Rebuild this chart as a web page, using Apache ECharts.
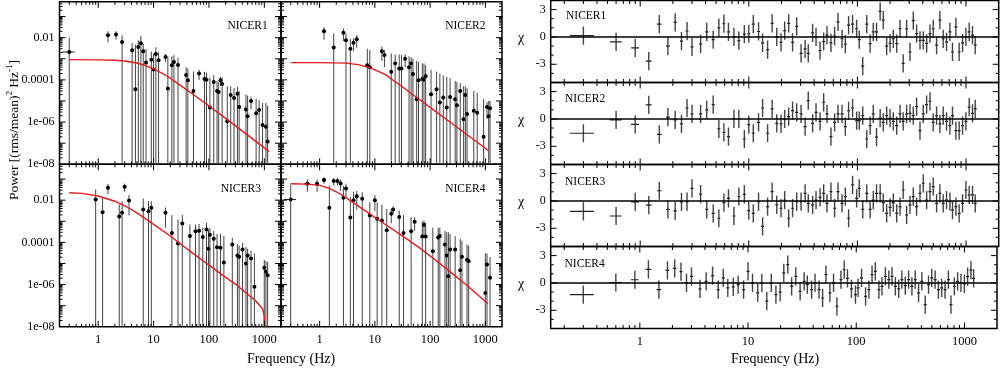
<!DOCTYPE html>
<html><head><meta charset="utf-8">
<script src="https://cdn.jsdelivr.net/npm/echarts@6/dist/echarts.min.js"></script>
<style>html,body{margin:0;padding:0;background:#fff}#c{width:1000px;height:368px}</style>
</head><body><div id="c"></div>
<script>
// ================= DATA =================
const panelNames = ['NICER1', 'NICER2', 'NICER3', 'NICER4'];
const xTickValues = [1, 10, 100, 1000];
const xTickLabels = ['1', '10', '100', '1000'];
const powTickValues = [1e-8, 1e-6, 1e-4, 1e-2];
const powTickLabels = ['1e-08', '1e-06', '0.0001', '0.01'];
const chiTickValues = [-3, 0, 3];
const chiTickLabels = ['-3', '0', '3'];
const xTitle = 'Frequency (Hz)';
const binHalfWidth = 0.075; // Hz

// ---- power spectra (left) : frequency, power, 1-sigma error ----
const pds1Freq = [0.3, 1.5, 2.1, 2.7, 4.1, 4.7, 5.3, 5.9, 6.5, 7.3, 9.1, 10.0, 11.0, 12.3, 16.4, 18.1, 21.4, 23.3, 27.6, 38.7, 41.6, 52.5, 66.3, 83.0, 90.3, 104, 122, 140, 150, 162, 173, 214, 247, 284, 327, 351, 466, 499, 575, 711, 807, 929, 1070, 1148];
const pds1Pow = [2.1e-3, 1.3e-2, 1.4e-2, 6.2e-3, 2.5e-3, 3.6e-5, 3.6e-3, 5.5e-3, 2.3e-3, 6.6e-4, 9.1e-4, 3.1e-4, 1.7e-3, 8.5e-4, 1.2e-3, 3.9e-5, 4.9e-4, 7e-4, 5e-4, 1.7e-4, 9.6e-5, 3e-5, 2e-4, 1.1e-4, 1e-4, 4.9e-6, 8e-5, 3e-5, 2.7e-5, 9.6e-5, 6.3e-5, 1.1e-6, 1.9e-5, 1.4e-5, 2.2e-5, 5.2e-6, 4e-6, 1.9e-6, 1e-5, 2.6e-6, 3.7e-6, 7.2e-7, 6e-7, 1.2e-7];
const pds1Err = [7.9e-3, 7e-3, 6e-3, 6.8e-3, 3.0e-3, 4.5e-3, 3.9e-3, 6.5e-3, 2.7e-3, 2.3e-3, 1.3e-3, 1.5e-3, 1.8e-3, 1.15e-3, 5e-4, 1.26e-3, 8.1e-4, 8e-4, 6e-4, 2.3e-4, 2.5e-4, 2.2e-4, 1e-4, 1.3e-4, 1.2e-4, 1.25e-4, 9e-5, 6e-5, 5.3e-5, 4.4e-5, 6.7e-5, 4.9e-5, 3.1e-5, 2.6e-5, 2.4e-5, 2.5e-5, 1.6e-5, 1.6e-5, 6e-6, 1.04e-5, 7.3e-6, 7.3e-6, 7.4e-6, 5.9e-6];

const pds2Freq = [1.2, 1.8, 2.7, 3.0, 3.6, 4.1, 4.7, 7.3, 8.1, 13.4, 14.9, 19.8, 23.3, 27.6, 30.3, 35.3, 41.6, 45.3, 48.9, 57.1, 61.7, 72.2, 77.4, 83.0, 104, 131, 150, 173, 200, 230, 284, 305, 351, 404, 434, 466, 617, 711, 929, 1070, 1148, 1216];
const pds2Pow = [0.020, 0.0034, 0.017, 0.0075, 0.003, 0.0058, 0.0083, 4.9e-4, 4e-4, 2.3e-3, 1.5e-3, 2.4e-4, 5.9e-4, 3.5e-4, 3.5e-4, 1e-3, 4e-4, 5.9e-4, 1.9e-4, 1.2e-5, 9.5e-5, 1.1e-4, 1e-4, 1.5e-4, 2.1e-5, 3.6e-5, 8.5e-6, 1.45e-5, 4.9e-6, 1.55e-5, 1.2e-5, 6.3e-6, 3e-5, 1.35e-6, 1.9e-5, 2.4e-6, 3.4e-6, 2.75e-6, 2e-7, 5.2e-6, 1.9e-6, 4.5e-6];
const pds2Err = [0.012, 0.0126, 0.010, 0.0085, 0.006, 0.0035, 0.005, 2.5e-3, 2.2e-3, 1.5e-3, 1.1e-3, 1.56e-3, 1.0e-3, 1.25e-3, 1.15e-3, 6e-4, 9e-4, 6.1e-4, 8.1e-4, 7.9e-4, 6.05e-4, 4.9e-4, 5e-4, 3.5e-4, 2.8e-4, 2.1e-4, 1.9e-4, 1.45e-4, 1.35e-4, 1.05e-4, 7.8e-5, 7.4e-5, 4e-5, 4.9e-5, 3.1e-5, 3.8e-5, 2.7e-5, 2.2e-5, 1.2e-5, 3.8e-6, 8.1e-6, 5.5e-6];

const pds3Freq = [0.9, 1.2, 1.5, 2.4, 2.7, 3.0, 3.6, 6.5, 8.1, 9.1, 16.4, 21.4, 27.6, 33.0, 45.3, 57.1, 66.3, 77.4, 90.3, 98.4, 104, 122, 140, 162, 186, 264, 327, 351, 404, 466, 499, 575, 662, 998, 1070, 1148];
const pds3Pow = [0.0107, 0.0027, 0.039, 0.0017, 0.0025, 0.043, 0.0097, 0.0036, 0.003, 0.0044, 0.0025, 2.8e-4, 8.9e-5, 7.9e-4, 2e-4, 3.4e-4, 3.6e-4, 1.8e-4, 4.1e-4, 5e-5, 2.3e-4, 1.5e-4, 5.9e-5, 5.5e-5, 1.1e-5, 7.9e-5, 2.4e-5, 2.1e-5, 4.6e-5, 1e-5, 2.4e-5, 1.7e-5, 8e-7, 6.3e-6, 4.1e-6, 2.8e-6];
const pds3Err = [0.0213, 0.0103, 0.02, 0.0046, 0.0065, 0.018, 0.0078, 0.0084, 0.006, 0.0046, 0.002, 1.7e-3, 1.1e-3, 1.2e-3, 5e-4, 3.6e-4, 3.8e-4, 3.2e-4, 4.3e-4, 3.5e-4, 2.5e-4, 2e-4, 1.9e-4, 1.95e-4, 1.9e-4, 8.5e-5, 5.6e-5, 4.9e-5, 4.8e-5, 5e-5, 2.6e-5, 2.3e-5, 2.9e-5, 8.7e-6, 8.9e-6, 9.2e-6];

const pds4Freq = [0.3, 0.6, 0.9, 1.2, 1.5, 1.8, 2.1, 2.4, 2.7, 3.0, 3.6, 4.1, 4.7, 5.9, 8.1, 10.0, 11.0, 13.4, 16.4, 19.8, 21.4, 27.6, 33.0, 45.3, 52.5, 72.2, 77.4, 83.0, 112, 140, 150, 186, 200, 214, 230, 284, 351, 377, 466, 499, 998, 1070, 1216];
const pds4Pow = [0.0107, 0.06, 0.06, 0.09, 0.0044, 0.08, 0.08, 0.062, 0.013, 0.036, 0.0015, 0.01, 0.0155, 0.0117, 0.0019, 0.01, 0.0013, 0.0011, 3.8e-4, 2.3e-3, 3.6e-3, 1.6e-3, 2.8e-4, 3.4e-4, 9.5e-4, 1.9e-4, 6.6e-4, 1.9e-4, 3.8e-5, 1.7e-4, 2e-4, 8e-5, 2.4e-5, 2.5e-6, 4.6e-5, 4.6e-5, 4.8e-6, 2.1e-5, 1.5e-5, 1.3e-5, 4e-7, 8.9e-6, 2.1e-6];
const pds4Err = [0.044, 0.035, 0.035, 0.03, 0.045, 0.03, 0.03, 0.035, 0.035, 0.024, 0.012, 0.015, 0.012, 0.012, 0.006, 0.007, 0.0065, 0.005, 0.0035, 0.0015, 0.0014, 0.0016, 0.0017, 0.0012, 6e-4, 8e-4, 4.4e-4, 7e-4, 4.6e-4, 3.3e-4, 3e-4, 2.7e-4, 2.8e-4, 3e-4, 2e-4, 1.5e-4, 1.45e-4, 1e-4, 6.5e-5, 5.7e-5, 3e-5, 2.1e-5, 1.8e-5];

// ---- best-fit model curves (red) ----
const model1Freq = [0.3, 1, 2, 3, 5, 7, 10, 15, 20, 30, 50, 100, 200, 500, 1000, 1216];
const model1Pow = [9.1e-4, 8.9e-4, 8.5e-4, 7.8e-4, 6.3e-4, 4.9e-4, 3.3e-4, 1.9e-4, 1.2e-4, 5.6e-5, 2.2e-5, 5.8e-6, 1.5e-6, 2.4e-7, 6.0e-8, 4.1e-8];
const model2Freq = [0.3, 1, 3, 5, 8, 10, 15, 30, 60, 118, 235, 466, 1150];
const model2Pow = [6.6e-4, 6.6e-4, 6.2e-4, 5.25e-4, 3.8e-4, 3.0e-4, 1.86e-4, 5.1e-5, 1.35e-5, 3.6e-6, 9.5e-7, 2.5e-7, 4.4e-8];
const model3Freq = [0.3, 0.5, 1, 2, 3.2, 5, 10, 20, 31.5, 50, 100, 200, 309, 500, 700, 930, 990, 1010];
const model3Pow = [0.0224, 0.0209, 0.0158, 0.0089, 0.005, 0.0025, 7.1e-4, 2.0e-4, 7.9e-5, 3.2e-5, 8.3e-6, 2.2e-6, 1.0e-6, 3.5e-7, 1.66e-7, 7.1e-8, 3.5e-8, 1.0e-8];
const model4Freq = [0.3, 0.6, 1, 1.5, 2, 2.7, 4.5, 7.6, 15, 30, 60, 118, 235, 466, 1100];
const model4Pow = [0.06, 0.0575, 0.05, 0.036, 0.025, 0.0158, 0.0063, 0.0025, 7.4e-4, 2.2e-4, 6.3e-5, 1.62e-5, 3.9e-6, 9.1e-7, 1.26e-7];

// ---- residuals (right) ----
const chiFreq = [0.3, 0.6, 0.9, 1.2, 1.5, 1.8, 2.1, 2.4, 2.7, 3.0, 3.6, 4.1, 4.7, 5.3, 5.9, 6.5, 7.3, 8.1, 9.1, 10.0, 11.0, 12.3, 13.4, 14.9, 16.4, 18.1, 19.8, 21.4, 23.3, 25.3, 27.6, 30.3, 33.0, 35.3, 38.7, 41.6, 45.3, 48.9, 52.5, 57.1, 61.7, 66.3, 72.2, 77.4, 83.0, 90.3, 98.4, 104, 112, 122, 131, 140, 150, 162, 173, 186, 200, 214, 230, 247, 264, 284, 305, 327, 351, 377, 404, 434, 466, 499, 536, 575, 617, 662, 711, 751, 807, 865, 929, 998, 1070, 1148, 1216];
const chi1 = [0.15, -0.55, -1.2, -2.65, 1.4, -1.0, 1.6, -0.45, 0.65, -1.1, -0.75, 0.55, -0.3, 1.0, 1.45, 0.55, 0.0, -0.4, 0.3, 0.35, 1.4, 0.6, -0.65, -1.4, 1.5, 0.0, -0.6, 0.7, 1.5, -0.6, 1.15, -1.8, -1.3, -1.8, 0.45, 0.0, -1.5, -0.5, 0.2, -0.66, 0.1, 1.65, -0.2, -0.8, 1.3, 1.4, 0.9, -0.3, -3.2, 1.4, -0.73, 0.55, 0.55, 2.8, 1.85, -1.0, -0.7, -0.2, -0.73, 0.9, -2.9, 0.9, -1.65, 1.8, 0.37, -0.37, -0.37, -0.7, 0.37, 0.9, -0.9, 1.85, -0.2, -0.55, 0.55, -1.65, 1.1, -1.65, -0.66, 0.0, 0.55, 0.2, -0.9];
const chi2 = [-1.57, -0.1, -0.6, 1.55, -1.7, 0.2, -0.1, -0.55, 1.2, 0.55, 0.55, 1.0, 1.57, -1.1, -1.47, -1.94, 0.0, 0.0, -2.2, -0.62, -1.57, -0.37, 1.2, -1.57, 1.1, -0.48, -0.55, 0.0, 0.26, 0.92, 0.73, 0.55, -0.84, 2.0, -0.48, 0.73, -0.26, 1.83, 0.55, -1.94, -0.37, 0.55, 0.55, -0.84, 0.9, 1.2, -0.18, -0.18, 0.37, -2.2, -0.73, 0.55, -2.0, 0.1, -0.37, 0.37, 0.1, -0.26, -0.73, 0.55, -0.26, 0.55, 0.62, 0.37, 1.35, -1.28, 0.55, 1.57, 1.94, -0.37, 0.37, -0.55, 0.37, -0.26, -0.73, 0.37, -1.28, -1.28, -0.73, -0.26, 1.3, 0.62, 1.1];
const chi3 = [-1.15, -1.65, -0.1, -0.45, 1.12, -0.92, -1.08, -0.1, -0.07, 1.39, 0.75, -0.92, -1.36, -1.9, -0.18, 0.29, -1.65, 0.48, 0.73, -1.06, -1.36, -0.07, -2.8, -0.62, 1.03, -0.44, -0.8, 0.1, -1.9, -0.8, -0.07, -0.07, 0.84, -0.26, -0.44, 0.1, 0.4, 0.84, -0.26, 1.03, -0.8, 1.03, -0.26, 0.48, -1.9, 1.76, 0.29, 1.39, -0.92, 0.84, -0.92, 0.1, 0.84, 0.84, -0.18, -1.36, -0.7, -0.18, -1.36, -0.62, 1.2, -1.54, -0.44, 0.48, -0.62, 0.84, 1.94, 0.1, 1.03, 1.57, -0.26, 0.84, -0.26, 0.1, -0.07, -1.0, -0.62, -1.36, -0.26, 1.2, 0.66, 0.66, -0.26];
const chi4 = [-1.28, 0.05, 0.35, 1.5, -0.73, 1.39, 1.6, 1.25, 0.0, 0.73, -0.66, 0.18, 0.8, -0.73, 0.55, -0.55, -0.44, -0.18, -0.73, 1.28, 0.0, -1.1, 0.0, -2.0, 0.0, -1.28, -1.0, 1.1, 2.0, -0.37, 0.73, -0.92, 0.18, -0.18, -0.73, 0.0, -0.73, -1.65, 0.92, -1.1, 0.0, -2.56, 0.37, 1.45, 0.5, -0.66, -1.28, -0.55, 0.55, -1.47, -0.73, 0.92, 1.28, -0.73, -0.37, 0.73, 0.37, 0.73, -0.37, -0.66, 0.37, -0.29, 0.37, -0.37, 0.37, -1.1, 0.18, -2.38, -0.18, 0.55, 0.37, -0.73, -0.55, -0.73, 0.37, -2.38, -0.37, 0.18, 0.0, -0.1, 0.7, 1.4, 0.5];

// ================= LAYOUT / STYLE =================
const FONT = 'Liberation Serif';
const PMIN = 1e-8, PMAX = 0.5;
const LX = [0.2, 2000], RX = [0.15, 2000], CHI = [-5, 4];
const leftBoxes = [
  {left: 59.5, top: 1.8, width: 221.5, height: 162.5},
  {left: 281, top: 1.8, width: 221, height: 162.5},
  {left: 59.5, top: 164.3, width: 221.5, height: 162.5},
  {left: 281, top: 164.3, width: 221, height: 162.5}
];
const rightTops = [0.5, 82.5, 164.5, 246.5];
const rightBoxes = rightTops.map(t => ({left: 550.7, top: t, width: 448, height: 82}));

function labelFrom(values, labels, log) {
  return function (v) {
    for (let i = 0; i < values.length; i++) {
      if (log ? Math.abs(Math.log10(v) - Math.log10(values[i])) < 1e-6 : Math.abs(v - values[i]) < 1e-9) return labels[i];
    }
    return '';
  };
}
function logTicks(lo, hi) {
  const out = [];
  for (let d = -9; d <= 4; d++) for (let k = 1; k <= 9; k++) {
    const v = k * Math.pow(10, d);
    if (v <= lo * 1.001 || v >= hi * 0.999) continue;
    out.push({v: v, major: k === 1});
  }
  return out;
}
function linTicks(lo, hi, majors) {
  const out = [];
  for (let v = Math.ceil(lo); v <= Math.floor(hi); v++) {
    if (v === lo || v === hi) continue;
    out.push({v: v, major: majors.indexOf(v) >= 0});
  }
  return out;
}

function tickSeries(gi, xt, yt, xRef, yRef, o) {
  const items = [];
  xt.forEach(t => items.push({d: 'x', v: t.v, major: t.major}));
  yt.forEach(t => items.push({d: 'y', v: t.v, major: t.major}));
  if (o.zero) items.push({d: 'z', v: 0});
  return {
    type: 'custom', xAxisIndex: gi, yAxisIndex: gi, silent: true, clip: false, z: 6,
    data: items.map(t => t.d === 'x' ? [t.v, yRef] : [xRef, t.v]),
    renderItem: function (params, api) {
      const t = items[params.dataIndex];
      const cs = params.coordSys;
      const pt = api.coord([api.value(0), api.value(1)]);
      const st = {stroke: '#000', lineWidth: 1};
      if (t.d === 'x') {
        const L = t.major ? o.xMaj : o.xMin;
        const x = pt[0], yb = cs.y + cs.height, yt2 = cs.y;
        return {type: 'group', children: [
          {type: 'line', shape: {x1: x, y1: yb, x2: x, y2: yb - L}, style: st},
          {type: 'line', shape: {x1: x, y1: yt2, x2: x, y2: yt2 + L}, style: st}]};
      }
      if (t.d === 'y') {
        const L = t.major ? o.yMaj : o.yMin;
        const y = pt[1], xl = cs.x, xr = cs.x + cs.width;
        return {type: 'group', children: [
          {type: 'line', shape: {x1: xl, y1: y, x2: xl + L, y2: y}, style: st},
          {type: 'line', shape: {x1: xr, y1: y, x2: xr - L, y2: y}, style: st}]};
      }
      return {type: 'line', shape: {x1: cs.x, y1: pt[1], x2: cs.x + cs.width, y2: pt[1]}, style: {stroke: '#000', lineWidth: 1.4}};
    }
  };
}

function pdsSeries(gi, freq, pow, err) {
  const n = Math.min(freq.length, pow.length, err.length);
  const data = [];
  for (let i = 0; i < n; i++) data.push([freq[i], pow[i], err[i]]);
  return {
    type: 'custom', xAxisIndex: gi, yAxisIndex: gi, silent: true, clip: true, z: 3,
    data: data,
    renderItem: function (params, api) {
      const f = api.value(0), p = api.value(1), e = api.value(2);
      const cs = params.coordSys;
      const c = api.coord([f, p]);
      const top = Math.max(cs.y, api.coord([f, p + e])[1]);
      const lo = p - e;
      const bot = lo > PMIN ? api.coord([f, lo])[1] : cs.y + cs.height;
      const xl = api.coord([f - binHalfWidth, p])[0], xr = api.coord([f + binHalfWidth, p])[0];
      return {type: 'group', children: [
        {type: 'line', shape: {x1: c[0], y1: top, x2: c[0], y2: bot}, style: {stroke: '#444', lineWidth: 1}},
        {type: 'line', shape: {x1: xl, y1: c[1], x2: xr, y2: c[1]}, style: {stroke: '#222', lineWidth: 1}},
        {type: 'circle', shape: {cx: c[0], cy: c[1], r: 2}, style: {fill: '#000'}}]};
    }
  };
}

function chiSeries(gi, freq, chi) {
  const n = Math.min(freq.length, chi.length);
  const data = [];
  for (let i = 0; i < n; i++) data.push([freq[i], chi[i]]);
  return {
    type: 'custom', xAxisIndex: gi, yAxisIndex: gi, silent: true, clip: true, z: 3,
    data: data,
    renderItem: function (params, api) {
      const f = api.value(0), v = api.value(1);
      const c = api.coord([f, v]);
      const t = api.coord([f, v + 1])[1], b = api.coord([f, v - 1])[1];
      let xl = api.coord([f - binHalfWidth, v])[0], xr = api.coord([f + binHalfWidth, v])[0];
      xl = Math.min(xl, c[0] - 1.5); xr = Math.max(xr, c[0] + 1.5);
      return {type: 'group', children: [
        {type: 'line', shape: {x1: c[0], y1: t, x2: c[0], y2: b}, style: {stroke: '#444', lineWidth: 1.4}},
        {type: 'line', shape: {x1: xl, y1: c[1], x2: xr, y2: c[1]}, style: {stroke: '#222', lineWidth: 1.2}}]};
    }
  };
}

function modelSeries(gi, freq, pow) {
  return {
    type: 'line', xAxisIndex: gi, yAxisIndex: gi, silent: true, showSymbol: false, symbol: 'none',
    smooth: false, clip: true, z: 4,
    lineStyle: {color: '#e41a1c', width: 1.4},
    data: freq.map((f, i) => [f, pow[i]])
  };
}

const labelStyle = {fontFamily: FONT, fontSize: 12, color: '#000'};
const grids = [], xAxes = [], yAxes = [], series = [];
const pdsF = [pds1Freq, pds2Freq, pds3Freq, pds4Freq];
const pdsP = [pds1Pow, pds2Pow, pds3Pow, pds4Pow];
const pdsE = [pds1Err, pds2Err, pds3Err, pds4Err];
const modF = [model1Freq, model2Freq, model3Freq, model4Freq];
const modP = [model1Pow, model2Pow, model3Pow, model4Pow];
const chis = [chi1, chi2, chi3, chi4];

const xLab = labelFrom(xTickValues, xTickLabels, true);
const pLab = labelFrom(powTickValues, powTickLabels, true);
const cLab = labelFrom(chiTickValues, chiTickLabels, false);

leftBoxes.forEach((b, i) => {
  grids.push(Object.assign({show: true, borderColor: '#000', borderWidth: 1.5, backgroundColor: 'transparent'}, b));
  xAxes.push({type: 'log', logBase: 10, gridIndex: i, min: LX[0], max: LX[1],
    axisLine: {show: false}, axisTick: {show: false}, splitLine: {show: false},
    axisLabel: Object.assign({show: i >= 2, margin: 6, formatter: xLab}, labelStyle, {fontSize: 12.5})});
  yAxes.push({type: 'log', logBase: 10, gridIndex: i, min: PMIN, max: PMAX,
    axisLine: {show: false}, axisTick: {show: false}, splitLine: {show: false},
    axisLabel: Object.assign({show: i % 2 === 0, margin: 5, formatter: pLab}, labelStyle)});
});
rightBoxes.forEach((b, j) => {
  const i = 4 + j;
  grids.push(Object.assign({show: true, borderColor: '#000', borderWidth: 1.5, backgroundColor: 'transparent'}, b));
  xAxes.push({type: 'log', logBase: 10, gridIndex: i, min: RX[0], max: RX[1],
    axisLine: {show: false}, axisTick: {show: false}, splitLine: {show: false},
    axisLabel: Object.assign({show: j === 3, margin: 7, formatter: xLab}, labelStyle, {fontSize: 12.5})});
  yAxes.push({type: 'value', gridIndex: i, min: CHI[0], max: CHI[1], interval: 1,
    axisLine: {show: false}, axisTick: {show: false}, splitLine: {show: false},
    axisLabel: Object.assign({show: true, margin: 5, formatter: cLab}, labelStyle)});
});

const lxT = logTicks(LX[0], LX[1]), lyT = logTicks(PMIN, PMAX);
const rxT = logTicks(RX[0], RX[1]), ryT = linTicks(CHI[0], CHI[1], chiTickValues);
for (let i = 0; i < 4; i++) {
  series.push(tickSeries(i, lxT, lyT, 10, 1e-4, {xMaj: 6, xMin: 3, yMaj: 6, yMin: 3}));
  series.push(pdsSeries(i, pdsF[i], pdsP[i], pdsE[i]));
  series.push(modelSeries(i, modF[i], modP[i]));
}
for (let j = 0; j < 4; j++) {
  series.push(tickSeries(4 + j, rxT, ryT, 10, 0, {xMaj: 6, xMin: 3.5, yMaj: 6, yMin: 3, zero: true}));
  series.push(chiSeries(4 + j, chiFreq, chis[j]));
}

const txt = (x, y, s, size, align, extra) => Object.assign({type: 'text', x: x, y: y, silent: true, z: 10,
  style: {text: s, fontFamily: FONT, fontSize: size, fill: '#000', align: align || 'center', verticalAlign: 'middle'}}, extra || {});

const graphic = [
  txt(247.5, 26, panelNames[0], 11.5),
  txt(465.3, 26, panelNames[1], 11.5),
  txt(240.8, 189.3, panelNames[2], 11.5),
  txt(465.3, 189.3, panelNames[3], 11.5),
  txt(566, 15.5, panelNames[0], 11.5, 'left'),
  txt(565, 99, panelNames[1], 11.5, 'left'),
  txt(565, 182, panelNames[2], 11.5, 'left'),
  txt(564.5, 263.5, panelNames[3], 11.5, 'left'),
  txt(521, 38, 'χ', 14), txt(521, 120, 'χ', 14), txt(521, 202, 'χ', 14), txt(521, 284, 'χ', 14),
  txt(291, 359, xTitle, 14), txt(775, 359, xTitle, 14),
  {type: 'text', x: 14, y: 130, rotation: Math.PI / 2, silent: true, z: 10,
    style: {text: 'Power [(rms/mean){sup|2} Hz{sup|-1}]', fontFamily: FONT, fontSize: 13.5, fill: '#000',
      align: 'center', verticalAlign: 'middle', lineHeight: 18,
      rich: {sup: {fontFamily: FONT, fontSize: 9, lineHeight: 18, verticalAlign: 'top', fill: '#000'}}}}
];

const chart = echarts.init(document.getElementById('c'), null, {renderer: 'canvas', width: 1000, height: 368});
chart.setOption({
  animation: false,
  backgroundColor: '#fff',
  grid: grids, xAxis: xAxes, yAxis: yAxes, series: series, graphic: graphic
});
</script></body></html>
